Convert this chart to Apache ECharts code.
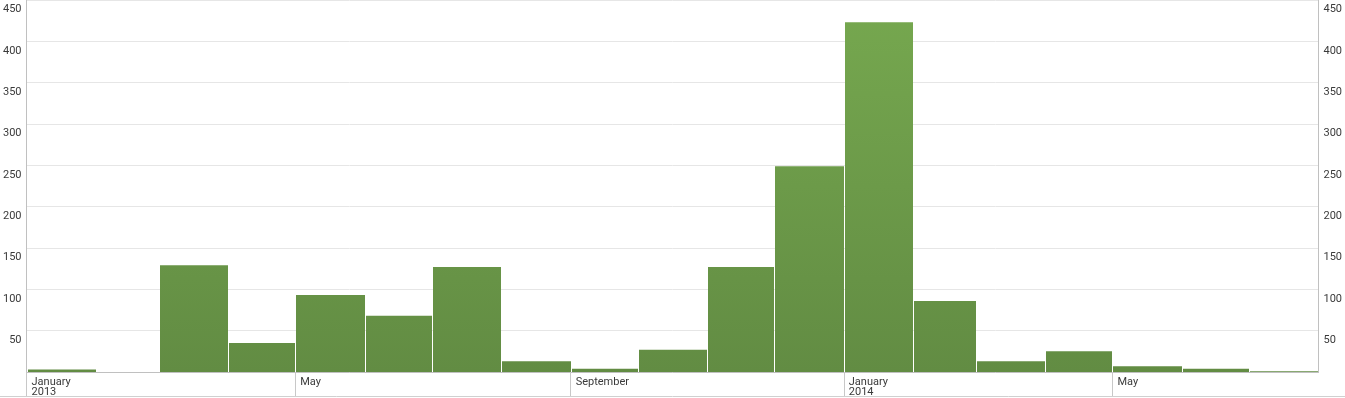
<!DOCTYPE html>
<html>
<head>
<meta charset="utf-8">
<script src="https://cdn.jsdelivr.net/npm/echarts@6/dist/echarts.min.js"></script>
<style>
  html, body { margin: 0; padding: 0; background: #fff; }
  #chart { width: 1345px; height: 398px; }
</style>
</head>
<body>
<div id="chart"></div>
<script>
  // monthly counts, Jan 2013 .. Jul 2014
  var months = ['2013-01', '2013-02', '2013-03', '2013-04', '2013-05', '2013-06', '2013-07',
    '2013-08', '2013-09', '2013-10', '2013-11', '2013-12', '2014-01', '2014-02', '2014-03',
    '2014-04', '2014-05', '2014-06', '2014-07']
  var values = [3, 0, 129, 35, 93, 68, 127, 13, 4, 27, 127, 249, 423, 86, 13, 25, 7, 4, 1]
  var tickMonths = ['2013-01', '2013-05', '2013-09', '2014-01', '2014-05']
  var monthNames = ['January', 'February', 'March', 'April', 'May', 'June', 'July',
    'August', 'September', 'October', 'November', 'December']
  var yTicks = [0, 450, 50]

  function toTime (ym) {
    var p = ym.split('-')
    return new Date(+p[0], +p[1] - 1, 1).getTime()
  }
  function nextMonth (ym) {
    var p = ym.split('-')
    return new Date(+p[0], +p[1], 1).getTime()
  }

  var data = months.map(function (m, i) {
    return [toTime(m), nextMonth(m), values[i]]
  })

  var labelStyle = { fontFamily: 'Roboto', fontSize: 11, color: '#3a3a3a' }

  var yAxisBase = {
    type: 'value',
    min: yTicks[0],
    max: yTicks[1],
    interval: yTicks[2],
    axisLine: { show: true, lineStyle: { color: '#c0c0c0' } },
    axisTick: { show: false },
    splitLine: { lineStyle: { color: '#e6e6e6' } },
    axisLabel: Object.assign({
      showMinLabel: false,
      verticalAlign: 'top',
      padding: [4, 0, 0, 0],
      margin: 5
    }, labelStyle)
  }

  var option = {
    animation: false,
    grid: { left: 25, right: 25, top: -1, bottom: 26, containLabel: false },
    xAxis: {
      type: 'value',
      scale: true,
      min: toTime(months[0]),
      max: nextMonth(months[months.length - 1]),
      axisLine: { show: true, onZero: false, lineStyle: { color: '#c0c0c0' } },
      splitLine: { show: false },
      axisTick: {
        show: true,
        length: 24,
        lineStyle: { color: '#c8c8c8' },
        customValues: tickMonths.map(toTime)
      },
      axisLabel: Object.assign({
        customValues: tickMonths.map(toTime),
        showMinLabel: true,
        hideOverlap: false,
        align: 'left',
        verticalAlign: 'top',
        lineHeight: 10,
        padding: [0, 0, 0, 5],
        margin: 5,
        formatter: function (val) {
          var d = new Date(val)
          var name = monthNames[d.getMonth()]
          return d.getMonth() === 0 ? name + '\n' + d.getFullYear() : name
        }
      }, labelStyle)
    },
    yAxis: [
      Object.assign({}, yAxisBase, { position: 'left' }),
      Object.assign({}, yAxisBase, { position: 'right', splitLine: { show: false } })
    ],
    graphic: [{
      type: 'line',
      shape: { x1: 0, y1: 396.5, x2: 1345, y2: 396.5 },
      style: { stroke: '#d0d0d0', lineWidth: 1 },
      silent: true
    }],
    series: [{
      type: 'custom',
      data: data,
      encode: { x: [0, 1], y: 2 },
      renderItem: function (params, api) {
        var p0 = api.coord([api.value(0), api.value(2)])
        var p1 = api.coord([api.value(1), 0])
        var x0 = Math.round(p0[0])
        var x1 = Math.round(p1[0])
        return {
          type: 'rect',
          shape: { x: x0 + 1, y: p0[1], width: x1 - x0 - 1, height: p1[1] - p0[1] },
          style: {
            fill: new echarts.graphic.LinearGradient(0, 0, 0, 372, [
              { offset: 0, color: '#76a84f' },
              { offset: 1, color: '#628c43' }
            ], true)
          }
        }
      }
    }]
  }

  var dom = echarts.init(document.getElementById('chart'))
  dom.setOption(option)
  window.addEventListener('resize', dom.resize)
</script>
</body>
</html>
